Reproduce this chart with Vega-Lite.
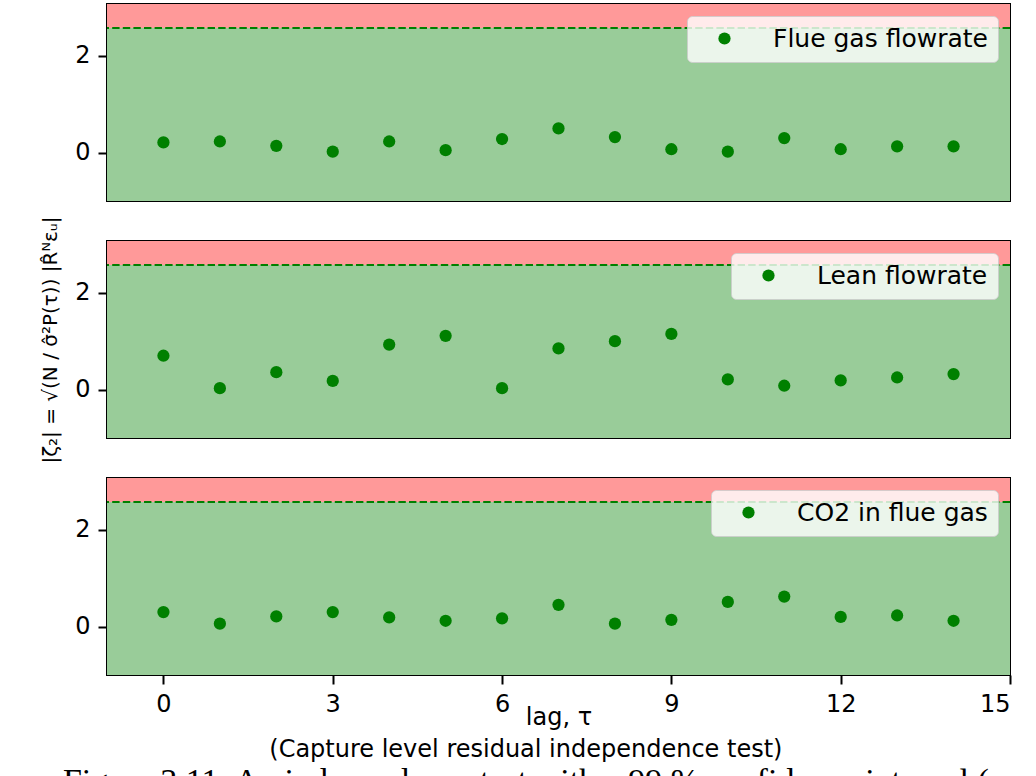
{
  "$schema": "https://vega.github.io/schema/vega-lite/v6.json",
  "background": "white",
  "padding": {"left": 39, "top": 3, "right": 10, "bottom": 0},
  "datasets": {
    "bands": [
      {"x": -1, "x2": 15, "lo": -1, "hi": 2.576, "zone": "accept"},
      {"x": -1, "x2": 15, "lo": 2.576, "hi": 3.07, "zone": "reject"}
    ],
    "pts": [
      {"series": "Flue gas flowrate", "lag": 0, "value": 0.21},
      {"series": "Flue gas flowrate", "lag": 1, "value": 0.23},
      {"series": "Flue gas flowrate", "lag": 2, "value": 0.14},
      {"series": "Flue gas flowrate", "lag": 3, "value": 0.02},
      {"series": "Flue gas flowrate", "lag": 4, "value": 0.23},
      {"series": "Flue gas flowrate", "lag": 5, "value": 0.05},
      {"series": "Flue gas flowrate", "lag": 6, "value": 0.28},
      {"series": "Flue gas flowrate", "lag": 7, "value": 0.5},
      {"series": "Flue gas flowrate", "lag": 8, "value": 0.32},
      {"series": "Flue gas flowrate", "lag": 9, "value": 0.07},
      {"series": "Flue gas flowrate", "lag": 10, "value": 0.02},
      {"series": "Flue gas flowrate", "lag": 11, "value": 0.3},
      {"series": "Flue gas flowrate", "lag": 12, "value": 0.07},
      {"series": "Flue gas flowrate", "lag": 13, "value": 0.13},
      {"series": "Flue gas flowrate", "lag": 14, "value": 0.13},
      {"series": "Lean flowrate", "lag": 0, "value": 0.7},
      {"series": "Lean flowrate", "lag": 1, "value": 0.03},
      {"series": "Lean flowrate", "lag": 2, "value": 0.36},
      {"series": "Lean flowrate", "lag": 3, "value": 0.18},
      {"series": "Lean flowrate", "lag": 4, "value": 0.93},
      {"series": "Lean flowrate", "lag": 5, "value": 1.11},
      {"series": "Lean flowrate", "lag": 6, "value": 0.03},
      {"series": "Lean flowrate", "lag": 7, "value": 0.85},
      {"series": "Lean flowrate", "lag": 8, "value": 1.0},
      {"series": "Lean flowrate", "lag": 9, "value": 1.15},
      {"series": "Lean flowrate", "lag": 10, "value": 0.21},
      {"series": "Lean flowrate", "lag": 11, "value": 0.08},
      {"series": "Lean flowrate", "lag": 12, "value": 0.19},
      {"series": "Lean flowrate", "lag": 13, "value": 0.25},
      {"series": "Lean flowrate", "lag": 14, "value": 0.32},
      {"series": "CO2 in flue gas", "lag": 0, "value": 0.3},
      {"series": "CO2 in flue gas", "lag": 1, "value": 0.06},
      {"series": "CO2 in flue gas", "lag": 2, "value": 0.21},
      {"series": "CO2 in flue gas", "lag": 3, "value": 0.3},
      {"series": "CO2 in flue gas", "lag": 4, "value": 0.19},
      {"series": "CO2 in flue gas", "lag": 5, "value": 0.12},
      {"series": "CO2 in flue gas", "lag": 6, "value": 0.17},
      {"series": "CO2 in flue gas", "lag": 7, "value": 0.45},
      {"series": "CO2 in flue gas", "lag": 8, "value": 0.06},
      {"series": "CO2 in flue gas", "lag": 9, "value": 0.14},
      {"series": "CO2 in flue gas", "lag": 10, "value": 0.51},
      {"series": "CO2 in flue gas", "lag": 11, "value": 0.62},
      {"series": "CO2 in flue gas", "lag": 12, "value": 0.2},
      {"series": "CO2 in flue gas", "lag": 13, "value": 0.23},
      {"series": "CO2 in flue gas", "lag": 14, "value": 0.12}
    ]
  },
  "config": {
    "font": "DejaVu Sans",
    "view": {"stroke": "black", "strokeWidth": 2},
    "axis": {
      "domain": false, "grid": false,
      "labelFont": "DejaVu Sans", "labelFontSize": 24, "labelColor": "black",
      "tickColor": "black", "tickSize": 9, "tickWidth": 2, "labelPadding": 8,
      "titleFont": "DejaVu Sans", "titleFontWeight": "normal", "titleColor": "black"
    },
    "legend": {
      "orient": "top-right", "offset": 12, "title": null,
      "fillColor": "rgba(255,255,255,0.8)", "strokeColor": "rgba(204,204,204,0.8)",
      "cornerRadius": 5, "padding": 10, "labelLimit": 400,
      "labelFont": "DejaVu Sans", "labelFontSize": 25, "labelColor": "black",
      "symbolSize": 150, "symbolType": "circle", "symbolStrokeWidth": 0,
      "symbolOffset": 15, "labelOffset": 36
    }
  },
  "title": {
    "text": "(Capture level residual independence test)",
    "subtitle": "Figure 3.11: An independence test with a 99 % confidence interval (              ",
    "orient": "bottom", "anchor": "middle",
    "font": "DejaVu Sans", "fontSize": 24, "fontWeight": "normal", "color": "black",
    "offset": 8,
    "subtitleFont": "Liberation Serif", "subtitleFontSize": 34, "subtitleColor": "black", "subtitlePadding": 3
  },
  "resolve": {"scale": {"color": "independent"}, "legend": {"color": "independent"}},
  "spacing": 40,
  "bounds": "flush",
  "vconcat": [
    {
      "width": 903, "height": 197,
      "layer": [
        {"data": {"name": "bands"}, "transform": [{"filter": "datum.zone === 'accept'"}],
         "mark": {"type": "rect", "color": "#99cc99"},
         "encoding": {
           "x": {"field": "x", "type": "quantitative", "scale": {"domain": [-1, 15], "nice": false, "zero": false}, "axis": null},
           "x2": {"field": "x2"},
           "y": {"field": "lo", "type": "quantitative", "scale": {"domain": [-1, 3.07], "nice": false, "zero": false}, "axis": {"values": [0, 2], "title": null}},
           "y2": {"field": "hi"}}},
        {"data": {"name": "bands"}, "transform": [{"filter": "datum.zone === 'reject'"}],
         "mark": {"type": "rect", "color": "#ff9999"},
         "encoding": {"x": {"field": "x", "type": "quantitative"}, "x2": {"field": "x2"}, "y": {"field": "lo", "type": "quantitative"}, "y2": {"field": "hi"}}},
        {"data": {"name": "bands"}, "transform": [{"filter": "datum.zone === 'accept'"}],
         "mark": {"type": "rule", "color": "green", "strokeDash": [7.4, 3.2], "strokeWidth": 2},
         "encoding": {"y": {"field": "hi", "type": "quantitative"}}},
        {"data": {"name": "pts"}, "transform": [{"filter": "datum.series === 'Flue gas flowrate'"}],
         "mark": {"type": "point", "filled": true, "shape": "circle", "size": 150, "opacity": 1},
         "encoding": {
           "x": {"field": "lag", "type": "quantitative"},
           "y": {"field": "value", "type": "quantitative"},
           "color": {"field": "series", "type": "nominal", "scale": {"domain": ["Flue gas flowrate"], "range": ["green"]}}}}
      ]
    },
    {
      "width": 903, "height": 197,
      "layer": [
        {"data": {"name": "bands"}, "transform": [{"filter": "datum.zone === 'accept'"}],
         "mark": {"type": "rect", "color": "#99cc99"},
         "encoding": {
           "x": {"field": "x", "type": "quantitative", "scale": {"domain": [-1, 15], "nice": false, "zero": false}, "axis": null},
           "x2": {"field": "x2"},
           "y": {"field": "lo", "type": "quantitative", "scale": {"domain": [-1, 3.07], "nice": false, "zero": false},
                 "axis": {"values": [0, 2], "title": "|ζ₂| = √(N / σ̂²P(τ)) |R̂ᴺεᵤ|", "titleFontSize": 20, "titlePadding": 14}},
           "y2": {"field": "hi"}}},
        {"data": {"name": "bands"}, "transform": [{"filter": "datum.zone === 'reject'"}],
         "mark": {"type": "rect", "color": "#ff9999"},
         "encoding": {"x": {"field": "x", "type": "quantitative"}, "x2": {"field": "x2"}, "y": {"field": "lo", "type": "quantitative"}, "y2": {"field": "hi"}}},
        {"data": {"name": "bands"}, "transform": [{"filter": "datum.zone === 'accept'"}],
         "mark": {"type": "rule", "color": "green", "strokeDash": [7.4, 3.2], "strokeWidth": 2},
         "encoding": {"y": {"field": "hi", "type": "quantitative"}}},
        {"data": {"name": "pts"}, "transform": [{"filter": "datum.series === 'Lean flowrate'"}],
         "mark": {"type": "point", "filled": true, "shape": "circle", "size": 150, "opacity": 1},
         "encoding": {
           "x": {"field": "lag", "type": "quantitative"},
           "y": {"field": "value", "type": "quantitative"},
           "color": {"field": "series", "type": "nominal", "scale": {"domain": ["Lean flowrate"], "range": ["green"]}}}}
      ]
    },
    {
      "width": 903, "height": 197,
      "layer": [
        {"data": {"name": "bands"}, "transform": [{"filter": "datum.zone === 'accept'"}],
         "mark": {"type": "rect", "color": "#99cc99"},
         "encoding": {
           "x": {"field": "x", "type": "quantitative", "scale": {"domain": [-1, 15], "nice": false, "zero": false},
                 "axis": {"values": [0, 3, 6, 9, 12, 15], "format": "d", "title": "lag, τ", "titleFontSize": 24, "titlePadding": -11}},
           "x2": {"field": "x2"},
           "y": {"field": "lo", "type": "quantitative", "scale": {"domain": [-1, 3.07], "nice": false, "zero": false}, "axis": {"values": [0, 2], "title": null}},
           "y2": {"field": "hi"}}},
        {"data": {"name": "bands"}, "transform": [{"filter": "datum.zone === 'reject'"}],
         "mark": {"type": "rect", "color": "#ff9999"},
         "encoding": {"x": {"field": "x", "type": "quantitative"}, "x2": {"field": "x2"}, "y": {"field": "lo", "type": "quantitative"}, "y2": {"field": "hi"}}},
        {"data": {"name": "bands"}, "transform": [{"filter": "datum.zone === 'accept'"}],
         "mark": {"type": "rule", "color": "green", "strokeDash": [7.4, 3.2], "strokeWidth": 2},
         "encoding": {"y": {"field": "hi", "type": "quantitative"}}},
        {"data": {"name": "pts"}, "transform": [{"filter": "datum.series === 'CO2 in flue gas'"}],
         "mark": {"type": "point", "filled": true, "shape": "circle", "size": 150, "opacity": 1},
         "encoding": {
           "x": {"field": "lag", "type": "quantitative"},
           "y": {"field": "value", "type": "quantitative"},
           "color": {"field": "series", "type": "nominal", "scale": {"domain": ["CO2 in flue gas"], "range": ["green"]}}}}
      ]
    }
  ]
}
